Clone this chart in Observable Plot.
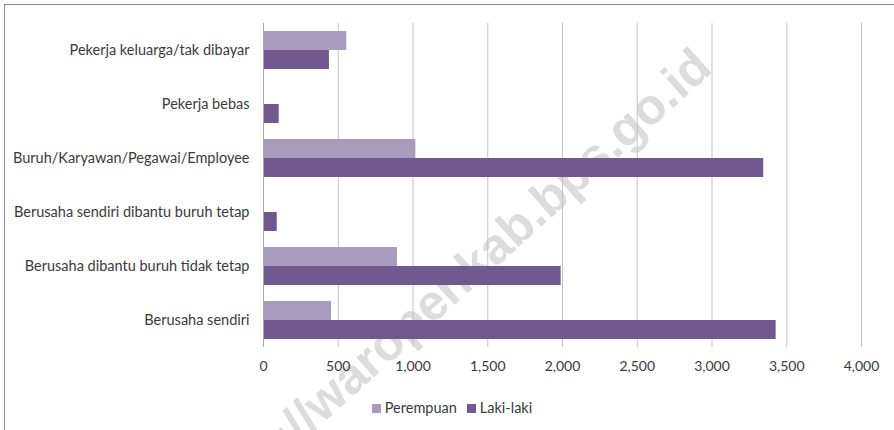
<!DOCTYPE html>
<html>
<head>
<meta charset="utf-8">
<script src="https://cdn.jsdelivr.net/npm/d3@7"></script>
<script src="https://cdn.jsdelivr.net/npm/@observablehq/plot@0.6"></script>
<style>
  html, body { margin: 0; padding: 0; background: #fff; }
  #wrap { position: relative; width: 894px; height: 430px; overflow: hidden; font-family: Lato, "Open Sans", sans-serif; }
  #border { position: absolute; left: 4px; top: 4px; width: 1000px; height: 1000px; border-left: 1px solid #8a8a8a; border-top: 1px solid #8a8a8a; pointer-events: none; }
  #legend { position: absolute; left: 0; top: 398px; width: 894px; display: flex; justify-content: center; padding-left: 10px; box-sizing: border-box; font-size: 14.5px; color: #3a3a3a; line-height: 20px; }
  .item { display: flex; align-items: center; margin: 0 5px; }
  .sw { width: 9px; height: 9px; margin-right: 4px; }
</style>
</head>
<body>
<div id="wrap"><div id="chart"></div><div id="legend"></div><div id="border"></div></div>
<script>
const categories = [
  "Pekerja keluarga/tak dibayar",
  "Pekerja bebas",
  "Buruh/Karyawan/Pegawai/Employee",
  "Berusaha sendiri dibantu buruh tetap",
  "Berusaha dibantu buruh tidak tetap",
  "Berusaha sendiri"
];
const series = ["Perempuan", "Laki-laki"];
const perempuan = [557, 0, 1019, 0, 896, 455];
const lakilaki = [441, 105, 3346, 92, 1991, 3429];
const colors = ["#A99BBE", "#71598F"];
const xTicks = [0, 500, 1000, 1500, 2000, 2500, 3000, 3500, 4000];
const watermark = "http://waropenkab.bps.go.id";

const rowsP = categories.map((c, i) => ({category: c, series: series[0], value: perempuan[i]}));
const rowsL = categories.map((c, i) => ({category: c, series: series[1], value: lakilaki[i]}));

const chart = Plot.plot({
  width: 894,
  height: 385,
  marginLeft: 263,
  marginRight: 33,
  marginTop: 23,
  marginBottom: 38,
  style: {fontFamily: "Lato, 'Open Sans', sans-serif", fontSize: "14px", color: "#3a3a3a", background: "transparent", overflow: "visible"},
  x: {domain: [0, 4000], ticks: xTicks, tickFormat: d3.format(","), tickSize: 0, tickPadding: 14, label: null},
  y: {domain: categories, paddingInner: 0.296, paddingOuter: 0.148, tickSize: 0, tickPadding: 14, label: null},
  color: {domain: series, range: colors},
  marks: [
    Plot.text([watermark], {frameAnchor: "top-left", dx: 427, dy: 21, textAnchor: "end", rotate: -42, fontSize: 50, fontWeight: "bold", fontFamily: "Liberation Sans, Arial, sans-serif", fill: "#dcdcdc"}),
    Plot.gridX(xTicks.slice(1), {stroke: "#c3c3c3", strokeOpacity: 1}),
    Plot.barX(rowsP, {x: "value", y: "category", fill: "series", insetBottom: 19}),
    Plot.barX(rowsL, {x: "value", y: "category", fill: "series", insetTop: 19}),
    Plot.ruleX([0], {stroke: "#a8a8a8"}),
    Plot.axisX({ticks: xTicks, tickFormat: d3.format(","), tickSize: 0, tickPadding: 14, fill: "#3a3a3a"}),
    Plot.axisY({tickSize: 0, tickPadding: 14, fill: "#3a3a3a", fontSize: 14.5})
  ]
});
document.getElementById("chart").appendChild(chart);

const legend = document.getElementById("legend");
series.forEach((s, i) => {
  const item = document.createElement("div");
  item.className = "item";
  const sw = document.createElement("div");
  sw.className = "sw";
  sw.style.background = colors[i];
  const t = document.createElement("span");
  t.textContent = s;
  item.appendChild(sw);
  item.appendChild(t);
  legend.appendChild(item);
});
</script>
</body>
</html>
